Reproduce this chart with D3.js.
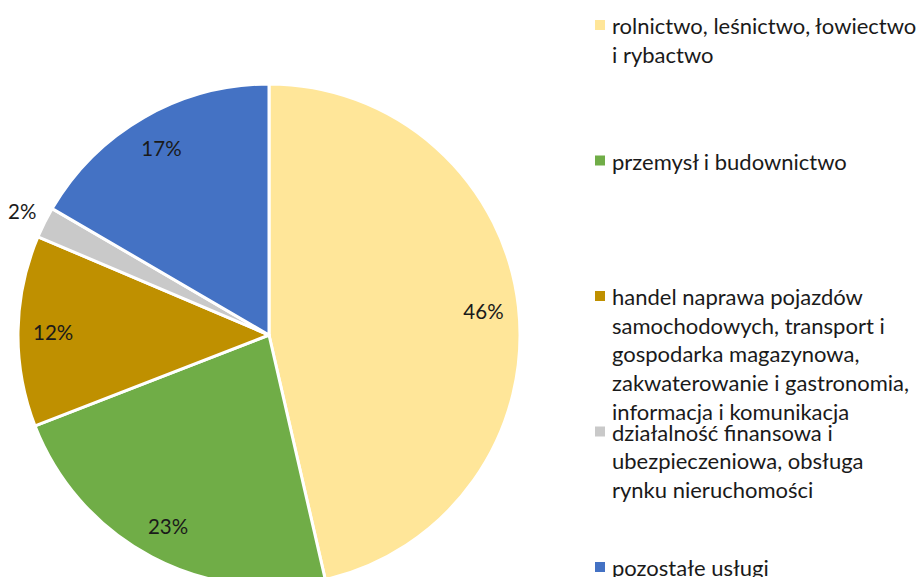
<!DOCTYPE html>
<html><head><meta charset="utf-8">
<script src="https://cdn.jsdelivr.net/npm/d3@7"></script>
<style>body{margin:0;background:#fff;}svg{display:block;font-family:Lato,"Open Sans",sans-serif;}</style>
</head><body>
<svg id="c" width="920" height="577"></svg>
<script>
const categories = [
  ["rolnictwo, leśnictwo, łowiectwo", "i rybactwo"],
  ["przemysł i budownictwo"],
  ["handel naprawa pojazdów", "samochodowych, transport i", "gospodarka magazynowa,", "zakwaterowanie i gastronomia,", "informacja i komunikacja"],
  ["działalność finansowa i", "ubezpieczeniowa, obsługa", "rynku nieruchomości"],
  ["pozostałe usługi"]
];
const values = [46.4, 22.7, 12.3, 2.0, 16.6];
const colors = ["#FFE699", "#70AD47", "#BF9000", "#C9C9C9", "#4472C4"];

const svg = d3.select("#c");
const cx = 269, cy = 335, r = 251;
const g = svg.append("g").attr("transform", `translate(${cx},${cy})`);
const pie = d3.pie().sort(null).value(d => d)(values);
const arc = d3.arc().innerRadius(0).outerRadius(r);
g.selectAll("path").data(pie).join("path")
  .attr("d", arc).attr("fill", (d,i) => colors[i])
  .attr("stroke", "#fff").attr("stroke-width", 3).attr("stroke-linejoin", "round");

const inner = d3.arc().innerRadius(r*0.86).outerRadius(r*0.86);
const outer = d3.arc().innerRadius(r*1.1).outerRadius(r*1.1);
const total = d3.sum(values);
g.selectAll("text.lbl").data(pie).join("text").attr("class","lbl")
  .attr("transform", (d,i) => {
    const p = (i === 3 ? outer : inner).centroid(d);
    return `translate(${p[0]},${p[1]})`;
  })
  .attr("text-anchor", "middle").attr("dominant-baseline", "central")
  .attr("font-size", 20.5).attr("fill", "#1a1a1a")
  .text(d => Math.round(d.data / total * 100) + "%");

const legY = [25, 160.5, 296, 431.5, 567];
const lineH = 28.7;
const leg = svg.append("g");
categories.forEach((lines, i) => {
  leg.append("rect").attr("x", 595).attr("y", legY[i] - 5).attr("width", 10).attr("height", 10).attr("fill", colors[i]);
  const t = leg.append("text").attr("x", 612).attr("y", legY[i]).attr("font-size", 22).attr("fill", "#1a1a1a")
    .attr("dominant-baseline", "central");
  lines.forEach((l, j) => t.append("tspan").attr("x", 612).attr("dy", j === 0 ? 0 : lineH).text(l));
});
</script>
</body></html>
